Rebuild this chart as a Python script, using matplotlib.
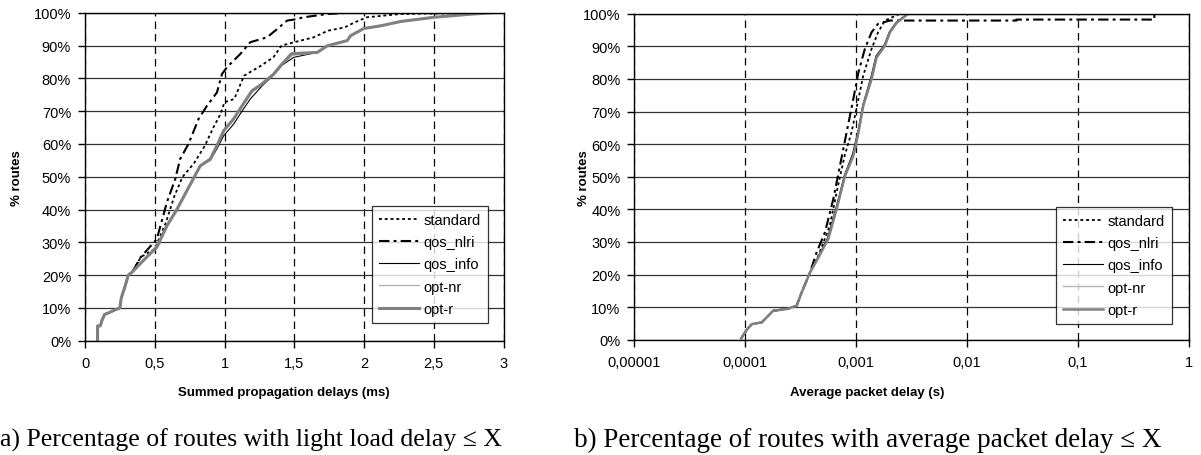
import matplotlib
matplotlib.use("Agg")
import matplotlib.pyplot as plt
from matplotlib.ticker import FixedLocator, FixedFormatter, NullLocator

W, H = 1201, 456

# ---- data: (a) summed propagation delay CDF, x in ms, y in % of routes ----
a_common_x = [0.09, 0.09, 0.11, 0.12, 0.14, 0.17, 0.22, 0.25, 0.26, 0.29, 0.31, 0.34]
a_common_y = [0.0, 4.5, 4.5, 6.0, 8.0, 8.5, 9.5, 10.0, 13.0, 17.0, 20.0, 21.0]

a_optr_x = [0.44, 0.515, 0.587, 0.659, 0.73, 0.826, 0.898, 0.946, 0.994, 1.065, 1.126,
            1.197, 1.26, 1.353, 1.413, 1.48, 1.665, 1.736, 1.88, 1.904, 2.0, 2.12,
            2.26, 2.5, 2.75, 2.92]
a_optr_y = [25.4, 28.5, 35.0, 40.0, 45.7, 53.3, 55.4, 59.5, 64.0, 67.6, 71.6,
            76.2, 78.0, 81.3, 84.4, 87.5, 87.9, 89.9, 91.5, 93.0, 95.2, 96.0,
            97.3, 98.6, 99.5, 100.0]

a_info_x = [0.44, 0.515, 0.587, 0.659, 0.73, 0.826, 0.898, 0.946, 0.994, 1.065, 1.126,
            1.185, 1.27, 1.353, 1.413, 1.497, 1.665, 1.736, 1.88, 1.904, 2.0, 2.12,
            2.26, 2.5, 2.75, 2.92]
a_info_y = [25.4, 28.5, 35.0, 40.0, 45.7, 53.3, 55.0, 58.5, 62.5, 66.0, 70.0,
            73.7, 77.7, 81.0, 84.0, 86.4, 87.9, 89.9, 91.5, 93.0, 95.2, 96.0,
            97.3, 98.6, 99.5, 100.0]

a_optnr_x = [0.44, 0.515, 0.587, 0.659, 0.73, 0.826, 0.898, 0.946, 0.994, 1.065, 1.126,
             1.19, 1.26, 1.353, 1.413, 1.49, 1.665, 1.736, 1.88, 1.904, 2.0, 2.12,
             2.26, 2.5, 2.75, 2.92]
a_optnr_y = [25.6, 29.0, 35.5, 40.5, 46.0, 53.5, 55.5, 59.5, 64.0, 67.5, 71.5,
             75.5, 77.8, 81.2, 84.3, 87.0, 87.9, 89.9, 91.5, 93.0, 95.2, 96.0,
             97.3, 98.6, 99.5, 100.0]

a_std_x = [0.40, 0.50, 0.58, 0.64, 0.70, 0.78, 0.86, 0.92, 0.97, 1.0, 1.07, 1.14, 1.26,
           1.35, 1.41, 1.5, 1.64, 1.74, 1.86, 1.93, 2.02, 2.26, 2.6, 2.85]
a_std_y = [25.5, 28.0, 36.0, 44.0, 50.0, 54.0, 59.5, 65.0, 69.0, 72.7, 73.7, 80.8, 83.8,
           86.4, 90.0, 91.0, 92.5, 94.5, 95.5, 97.0, 98.6, 99.6, 99.8, 100.0]

a_nlri_x = [0.40, 0.515, 0.587, 0.647, 0.682, 0.742, 0.814, 0.874, 0.946, 0.982, 1.018,
            1.113, 1.185, 1.305, 1.377, 1.449, 1.497, 1.568, 1.736, 1.9]
a_nlri_y = [25.5, 31.0, 42.2, 49.3, 55.4, 60.0, 67.6, 71.6, 75.7, 81.3, 83.4,
            87.4, 91.0, 92.5, 95.0, 97.6, 97.9, 98.6, 99.6, 100.0]

# ---- data: (b) average packet delay CDF, x in s, y in % of routes ----
b_common_x = [9.2e-5, 1.03e-4, 1.15e-4, 1.41e-4, 1.79e-4, 2.37e-4, 2.91e-4, 3.23e-4, 3.84e-4]
b_common_y = [0.4, 3.0, 4.8, 5.3, 8.9, 9.4, 10.4, 14.5, 20.6]

b_optr_x = [4.56e-4, 5.61e-4, 6.68e-4, 7.94e-4, 9.44e-4, 1.05e-3, 1.16e-3, 1.38e-3,
            1.53e-3, 1.82e-3, 2.02e-3, 2.32e-3, 2.96e-3]
b_optr_y = [25.2, 30.9, 40.1, 50.3, 56.4, 63.6, 71.8, 80.0, 86.6, 90.2, 94.3, 97.2, 100.0]

b_info_x = [4.5e-4, 5.5e-4, 6.6e-4, 7.85e-4, 9.3e-4, 1.04e-3, 1.15e-3, 1.36e-3,
            1.51e-3, 1.80e-3, 2.0e-3, 2.3e-3, 2.9e-3]
b_info_y = [25.2, 31.0, 40.5, 50.5, 57.0, 64.0, 72.0, 80.5, 87.0, 90.5, 94.5, 97.4, 100.0]

b_optnr_x = [4.6e-4, 5.6e-4, 6.7e-4, 8.0e-4, 9.5e-4, 1.06e-3, 1.17e-3, 1.39e-3,
             1.54e-3, 1.83e-3, 2.03e-3, 2.33e-3, 2.98e-3]
b_optnr_y = [25.0, 30.7, 40.0, 50.0, 56.2, 63.4, 71.6, 79.8, 86.4, 90.0, 94.1, 97.1, 100.0]

b_std_x = [4.6e-4, 5.8e-4, 6.9e-4, 7.9e-4, 9.1e-4, 1.05e-3, 1.16e-3, 1.38e-3,
           1.58e-3, 1.82e-3, 2.49e-3]
b_std_y = [26.0, 35.0, 47.5, 56.5, 63.6, 73.8, 81.0, 89.2, 94.3, 97.9, 100.0]

b_nlri_x = [4.41e-4, 5.25e-4, 6.24e-4, 7.16e-4, 8.22e-4, 9.44e-4, 1.05e-3, 1.2e-3,
            1.38e-3, 1.58e-3, 2.02e-3, 2.8e-2, 2.8e-2, 0.49, 0.49]
b_nlri_y = [26.8, 33.0, 43.2, 53.4, 63.6, 73.8, 82.0, 89.2, 94.3, 96.9, 97.9, 97.9,
            98.2, 98.2, 100.0]

# ---- tick labels ----
a_ticks = [0, 0.5, 1, 1.5, 2, 2.5, 3]
a_ticklabels = ["0", "0,5", "1", "1,5", "2", "2,5", "3"]
b_ticks = [1e-5, 1e-4, 1e-3, 1e-2, 1e-1, 1]
b_ticklabels = ["0,00001", "0,0001", "0,001", "0,01", "0,1", "1"]
y_ticks = list(range(0, 101, 10))
y_ticklabels = [f"{v}%" for v in y_ticks]

series_names = ["standard", "qos_nlri", "qos_info", "opt-nr", "opt-r"]
styles = {
    "standard": dict(color="black", lw=1.3, ls=(0, (1.6, 1.6))),
    "qos_nlri": dict(color="black", lw=1.5, ls=(0, (5, 2, 1.4, 2))),
    "qos_info": dict(color="black", lw=0.8, ls="-"),
    "opt-nr": dict(color="#b5b5b5", lw=1.0, ls="-"),
    "opt-r": dict(color="#808080", lw=2.2, ls="-"),
}

plt.rcParams["font.family"] = ["Liberation Sans", "DejaVu Sans"]

fig = plt.figure(figsize=(W / 100, H / 100), dpi=100)
fig.patch.set_facecolor("white")


def px_box(x0, y0, x1, y1):
    return [x0 / W, 1 - y1 / H, (x1 - x0) / W, (y1 - y0) / H]


def style_axes(ax):
    ax.set_ylim(0, 100)
    ax.yaxis.set_major_locator(FixedLocator(y_ticks))
    ax.yaxis.set_major_formatter(FixedFormatter(y_ticklabels))
    ax.yaxis.set_minor_locator(NullLocator())
    ax.xaxis.set_minor_locator(NullLocator())
    ax.grid(axis="y", color="#333333", lw=0.9, ls="-")
    ax.grid(axis="x", color="black", lw=0.9, ls=(0, (6, 4)))
    ax.set_axisbelow(True)
    for s in ax.spines.values():
        s.set_color("black")
        s.set_linewidth(1.0)
    ax.tick_params(axis="both", direction="out", length=5, width=1.0,
                   labelsize=10.5, color="black", pad=5)
    ax.tick_params(axis="x", pad=6)


def legend(ax, anchor):
    leg = ax.legend(loc="lower right", bbox_to_anchor=anchor, fontsize=10.5,
                    frameon=True, fancybox=False, edgecolor="black",
                    handlelength=2.75, handletextpad=0.3, borderpad=0.5,
                    labelspacing=0.56, borderaxespad=0)
    leg.get_frame().set_linewidth(0.9)


# (a) light-load delay
axa = fig.add_axes(px_box(85, 13.7, 503.5, 341.7))
a_data = {
    "standard": (a_std_x, a_std_y),
    "qos_nlri": (a_nlri_x, a_nlri_y),
    "qos_info": (a_info_x, a_info_y),
    "opt-nr": (a_optnr_x, a_optnr_y),
    "opt-r": (a_optr_x, a_optr_y),
}
for name in series_names:
    xs, ys = a_data[name]
    axa.plot(a_common_x + xs, a_common_y + ys, label=name, **styles[name])
axa.set_xlim(0, 3)
axa.xaxis.set_major_locator(FixedLocator(a_ticks))
axa.xaxis.set_major_formatter(FixedFormatter(a_ticklabels))
style_axes(axa)
legend(axa, (0.963, 0.054))

# (b) average packet delay
axb = fig.add_axes(px_box(634.3, 14.7, 1188.7, 340.7))
b_data = {
    "standard": (b_std_x, b_std_y),
    "qos_nlri": (b_nlri_x, b_nlri_y),
    "qos_info": (b_info_x, b_info_y),
    "opt-nr": (b_optnr_x, b_optnr_y),
    "opt-r": (b_optr_x, b_optr_y),
}
for name in series_names:
    xs, ys = b_data[name]
    st = dict(styles[name])
    if name == "opt-r":
        st["lw"] = 1.8
    axb.plot(b_common_x + xs, b_common_y + ys, label=name, **st)
axb.set_xscale("log")
axb.set_xlim(1e-5, 1)
axb.xaxis.set_major_locator(FixedLocator(b_ticks))
axb.xaxis.set_major_formatter(FixedFormatter(b_ticklabels))
style_axes(axb)
legend(axb, (0.970, 0.048))

# axis titles
fig.text(284 / W, 1 - 393 / H, "Summed propagation delays (ms)", ha="center", va="center",
         fontsize=9.5, fontweight="bold")
fig.text(867 / W, 1 - 393 / H, "Average packet delay (s)", ha="center", va="center",
         fontsize=9.5, fontweight="bold")
fig.text(17 / W, 1 - 178 / H, "% routes", ha="center", va="center", rotation=90,
         fontsize=9.5, fontweight="bold")
fig.text(584 / W, 1 - 178 / H, "% routes", ha="center", va="center", rotation=90,
         fontsize=9.5, fontweight="bold")

# captions
cap_font = ["Liberation Serif", "DejaVu Serif"]
fig.text(0 / W, 1 - 440 / H, "a) Percentage of routes with light load delay \u2264 X",
         ha="left", va="center", fontsize=18.5, family=cap_font)
fig.text(574 / W, 1 - 440 / H, "b) Percentage of routes with average packet delay \u2264 X",
         ha="left", va="center", fontsize=19.5, family=cap_font)

fig.savefig("out.png", dpi=100, facecolor="white")
